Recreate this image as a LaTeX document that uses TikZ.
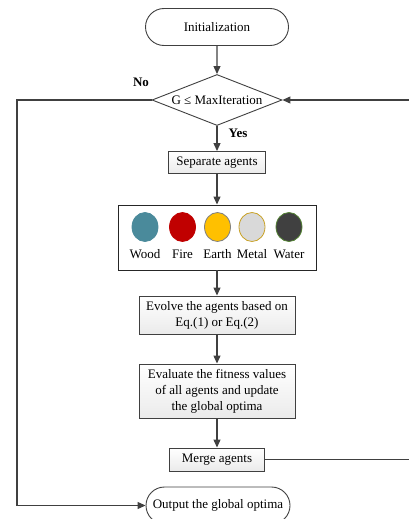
\documentclass[tikz,border=0pt]{standalone}
\usepackage{fontspec}
\setmainfont{Liberation Serif}
\usetikzlibrary{shapes.geometric,shapes.misc,arrows.meta}

\definecolor{linegray}{HTML}{404040}
\definecolor{woodc}{HTML}{4A8A9B}
\definecolor{firec}{HTML}{C00000}
\definecolor{earthc}{HTML}{FFC000}
\definecolor{metalc}{HTML}{D9D9D9}
\definecolor{waterc}{HTML}{404040}
\definecolor{goldc}{HTML}{C9A227}
\definecolor{greenc}{HTML}{548235}

\newcommand\flowfont{\fontsize{13}{16}\selectfont}

\tikzset{
  term/.style={rounded rectangle, draw=linegray, line width=0.9pt, fill=white, minimum width=143pt, minimum height=37pt, inner sep=0pt, font=\flowfont},
  proc/.style={rectangle, draw=linegray, line width=0.9pt, top color=white, bottom color=gray!16, align=center, inner sep=0pt, font=\flowfont},
  cond/.style={diamond, draw=linegray, line width=0.9pt, fill=white, aspect=2.55, inner sep=0pt, minimum width=130pt, minimum height=51pt, font=\flowfont},
  elem/.style={ellipse, minimum width=26pt, minimum height=29pt, inner sep=0pt, line width=0.8pt},
  flow/.style={draw=linegray, line width=1.1pt},
  arr/.style={flow, -{Triangle[length=8pt,width=7pt]}}
}

\begin{document}
\begin{tikzpicture}[x=1pt, y=-1pt]
  \useasboundingbox (0,0) rectangle (409,519);
  \node[term] (init) at (217,27) {Initialization};
  \node[cond] (test) at (217,100) {G ≤ MaxIteration};
  \node[proc, minimum width=97pt, minimum height=22pt] (sep) at (217,162.5) {Separate agents};
  % five elements
  \node[draw=black!85, line width=0.9pt, fill=white, minimum width=198pt, minimum height=65pt, inner sep=0pt] (agents) at (217,237.5) {};
  \foreach \x/\c/\b/\t [count=\i] in {145/woodc/woodc/Wood, 182.5/firec/firec/Fire, 217.5/earthc/gray/Earth, 252/metalc/goldc/Metal, 289/waterc/greenc/Water}{
    \node[elem, fill=\c, draw=\b] (el\i) at (\x,227) {};
    \node[font=\flowfont, inner sep=0pt] (lb\i) at (\x,254) {\t};
  }
  \node[proc, minimum width=156pt, minimum height=38pt] (evo) at (217,315) {Evolve the agents based on\\Eq.(1) or Eq.(2)};
  \node[proc, minimum width=156pt, minimum height=54pt] (eval) at (217,391) {Evaluate the fitness values\\of all agents and update\\the global optima};
  \node[proc, minimum width=95pt, minimum height=23pt] (merge) at (217,459.5) {Merge agents};
  \node[term, minimum width=144pt] (out) at (218,505.5) {Output the global optima};
  % labels
  \node[font=\flowfont\bfseries] (no) at (141,82) {No};
  \node[font=\flowfont\bfseries] (yes) at (238,133) {Yes};
  % connectors
  \draw[arr] (init) -- (test);
  \draw[arr] (test) -- (sep);
  \draw[arr] (sep) -- (agents);
  \draw[arr] (agents) -- (evo);
  \draw[arr] (evo) -- (eval);
  \draw[arr] (eval) -- (merge);
  \coordinate (lft) at (17,100);
  \coordinate (rgt) at (413,100);
  \draw[arr] (test.west) -- (lft) |- (out.west);
  \draw[arr] (merge.east) -| (rgt) -- (test.east);
\end{tikzpicture}
\end{document}
